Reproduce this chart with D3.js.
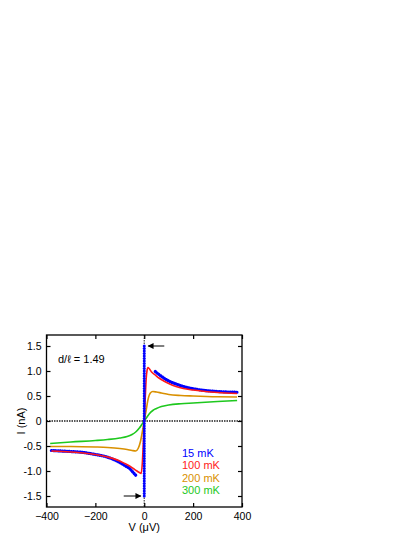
<!DOCTYPE html>
<html><head><meta charset="utf-8">
<script src="https://cdn.jsdelivr.net/npm/d3@7"></script>
<style>body{margin:0;background:#fff}svg{display:block}text{font-family:"Liberation Sans",Arial,sans-serif}</style>
</head><body><svg id="c" width="415" height="537"></svg>
<script>
// 15 mK: supercurrent branch at V=0 (dots) and resistive branches
const blueZeroI = [-1.5,-1.45,-1.4,-1.35,-1.3,-1.25,-1.2,-1.15,-1.1,-1.05,-1.0,-0.95,-0.9,-0.85,-0.8,-0.75,-0.7,-0.65,-0.6,-0.55,-0.5,-0.45,-0.4,-0.35,-0.3,-0.25,-0.2,-0.15,-0.1,-0.05,0,0.05,0.1,0.15,0.2,0.25,0.3,0.35,0.4,0.45,0.5,0.55,0.6,0.65,0.7,0.75,0.8,0.85,0.9,0.95,1.0,1.05,1.1,1.15,1.2,1.25,1.3,1.35,1.4,1.45,1.5];
const bluePosV = [45,60,80,100,130,160,200,250,300,340,380];
const bluePosI = [0.99,0.93,0.86,0.80,0.74,0.69,0.645,0.61,0.59,0.58,0.575];
const blueNegV = [-380,-340,-300,-250,-200,-160,-130,-100,-80,-60,-45,-30];
const blueNegI = [-0.59,-0.60,-0.61,-0.63,-0.67,-0.71,-0.76,-0.83,-0.89,-0.95,-1.03,-1.11];
// 100 mK
const redV = [-380,-300,-250,-200,-150,-100,-80,-60,-45,-30,-20,-13,-8,-4,0,4,8,12,15,20,30,45,60,80,100,130,160,200,250,300,380];
const redI = [-0.60,-0.62,-0.64,-0.67,-0.72,-0.80,-0.85,-0.90,-0.95,-1.00,-1.03,-1.05,-0.85,-0.45,0,0.45,0.85,1.03,1.07,1.05,0.98,0.92,0.86,0.80,0.75,0.69,0.65,0.62,0.59,0.57,0.55];
// 200 mK
const orangeV = [-385,-300,-200,-150,-100,-70,-50,-35,-25,-15,-8,0,8,15,25,35,50,70,100,150,200,300,380];
const orangeI = [-0.51,-0.51,-0.52,-0.53,-0.55,-0.57,-0.59,-0.60,-0.55,-0.40,-0.22,0,0.22,0.42,0.56,0.59,0.58,0.56,0.53,0.51,0.50,0.485,0.48];
// 300 mK
const greenV = [-385,-300,-200,-150,-100,-70,-50,-35,-20,-10,0,10,20,35,50,70,100,150,200,300,380];
const greenI = [-0.45,-0.42,-0.39,-0.37,-0.34,-0.31,-0.27,-0.22,-0.14,-0.07,0,0.07,0.14,0.21,0.25,0.29,0.32,0.345,0.36,0.39,0.41];

const xTicks = [-400,-200,0,200,400];
const yTicks = [-1.5,-1.0,-0.5,0,0.5,1.0,1.5];
const yTickLabels = ["-1.5","-1.0","-0.5","0","0.5","1.0","1.5"];
const legendLabels = ["15 mK","100 mK","200 mK","300 mK"];
const colors = ["#0000ff","#ff1a1a","#d99000","#1ec81e"];

const L=46.5,R=242,T=335,B=507;
const svg=d3.select("#c");
const x=d3.scaleLinear().domain([-400,400]).range([L,R]);
const y=d3.scaleLinear().domain([-1.72,1.72]).range([B,T]);

// zero lines
svg.append("line").attr("x1",L).attr("x2",R).attr("y1",y(0)).attr("y2",y(0))
  .attr("stroke","#222").attr("stroke-width",1.3).attr("stroke-dasharray","1.5,1");
svg.append("line").attr("x1",x(0)).attr("x2",x(0)).attr("y1",T).attr("y2",B)
  .attr("stroke","#555").attr("stroke-width",1.3).attr("stroke-dasharray","1.5,1");

const line=d3.line().x(d=>x(d[0])).y(d=>y(d[1])).curve(d3.curveMonotoneX);
const zip=(a,b)=>a.map((v,i)=>[v,b[i]]);

svg.append("path").attr("d",line(zip(greenV,greenI))).attr("fill","none").attr("stroke",colors[3]).attr("stroke-width",1.6);
svg.append("path").attr("d",line(zip(orangeV,orangeI))).attr("fill","none").attr("stroke",colors[2]).attr("stroke-width",1.6);

// blue branches (dense dots)
[zip(bluePosV,bluePosI),zip(blueNegV,blueNegI)].forEach(d=>{
  svg.append("path").attr("d",line(d)).attr("fill","none").attr("stroke",colors[0])
    .attr("stroke-width",3.2).attr("stroke-linecap","round").attr("stroke-dasharray","0.4,1.8");
});
svg.append("path").attr("d",line(zip(redV,redI))).attr("fill","none").attr("stroke",colors[1]).attr("stroke-width",1.6);
svg.selectAll("circle.z").data(blueZeroI).enter().append("circle")
  .attr("cx",x(0)).attr("cy",d=>y(d)).attr("r",1.5).attr("fill",colors[0]);

// frame
svg.append("rect").attr("x",L).attr("y",T).attr("width",R-L).attr("height",B-T)
  .attr("fill","none").attr("stroke","#000").attr("stroke-width",1.3);

// axes with inward ticks
const ax=g=>g.selectAll(".domain").remove();
svg.append("g").attr("transform",`translate(0,${B})`)
  .call(d3.axisBottom(x).tickValues(xTicks).tickSize(-4).tickPadding(6).tickFormat(d3.format("d"))).call(ax);
svg.append("g").attr("transform",`translate(0,${T})`)
  .call(d3.axisTop(x).tickValues(xTicks).tickSize(-4).tickFormat("")).call(ax);
svg.append("g").attr("transform",`translate(${L},0)`)
  .call(d3.axisLeft(y).tickValues(yTicks).tickSize(-4).tickPadding(5).tickFormat((d,i)=>yTickLabels[i])).call(ax);
svg.append("g").attr("transform",`translate(${R},0)`)
  .call(d3.axisRight(y).tickValues(yTicks).tickSize(-4).tickFormat("")).call(ax);
svg.selectAll(".tick line").attr("stroke","#000").attr("stroke-width",1.2);
svg.selectAll(".tick text").attr("font-size",10.5).attr("fill","#000").style("font-family","Liberation Sans, Arial, sans-serif");

// labels
svg.append("text").attr("x",x(0)).attr("y",531).attr("text-anchor","middle").attr("font-size",11).text("V  (\u03bcV)");
svg.append("text").attr("transform",`translate(25,${y(0)}) rotate(-90)`).attr("text-anchor","middle").attr("font-size",11).text("I  (nA)");
svg.append("text").attr("x",58).attr("y",363).attr("font-size",11).text("d/\u2113 = 1.49");

// legend
legendLabels.forEach((t,i)=>{
  svg.append("text").attr("x",182).attr("y",457+i*12.4).attr("font-size",11).attr("fill",colors[i]).text(t);
});

// arrows
const defs=svg.append("defs");
defs.append("marker").attr("id","ah").attr("viewBox","0 0 10 10").attr("refX",9).attr("refY",5)
  .attr("markerWidth",7).attr("markerHeight",6).attr("orient","auto").attr("markerUnits","userSpaceOnUse")
  .append("path").attr("d","M0,0L10,5L0,10Z").attr("fill","#000");
svg.append("line").attr("x1",x(82)).attr("x2",x(16)).attr("y1",y(1.5)).attr("y2",y(1.5))
  .attr("stroke","#000").attr("stroke-width",1).attr("marker-end","url(#ah)");
svg.append("line").attr("x1",x(-84)).attr("x2",x(-14)).attr("y1",y(-1.5)).attr("y2",y(-1.5))
  .attr("stroke","#000").attr("stroke-width",1).attr("marker-end","url(#ah)");
</script></body></html>
